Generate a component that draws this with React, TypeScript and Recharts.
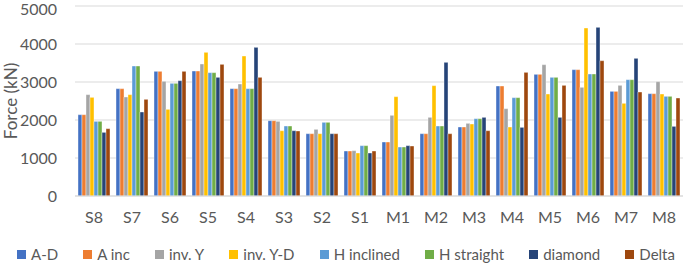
import React from 'react';
import { BarChart, Bar, XAxis, YAxis, CartesianGrid, Legend } from 'recharts';

const categories = ['S8', 'S7', 'S6', 'S5', 'S4', 'S3', 'S2', 'S1', 'M1', 'M2', 'M3', 'M4', 'M5', 'M6', 'M7', 'M8'];

const aD = [2140, 2825, 3281, 3289, 2825, 1982, 1640, 1184, 1421, 1640, 1816, 2895, 3202, 3325, 2754, 2693];
const aInc = [2140, 2825, 3281, 3289, 2825, 1982, 1640, 1184, 1421, 1640, 1816, 2895, 3202, 3325, 2754, 2693];
const invY = [2667, 2605, 3018, 3474, 2947, 1965, 1754, 1193, 2123, 2070, 1912, 2298, 3456, 2860, 2912, 3009];
const invYD = [2596, 2667, 2281, 3781, 3684, 1719, 1640, 1132, 2614, 2904, 1895, 1816, 2684, 4421, 2439, 2684];
const hInclined = [1965, 3421, 2965, 3246, 2825, 1842, 1939, 1325, 1289, 1842, 2035, 2588, 3123, 3211, 3061, 2623];
const hStraight = [1965, 3421, 2965, 3246, 2825, 1842, 1939, 1325, 1289, 1842, 2035, 2588, 3123, 3211, 3061, 2623];
const diamond = [1675, 2211, 3035, 3123, 3912, 1719, 1640, 1132, 1325, 3518, 2070, 1807, 2070, 4439, 3623, 1833];
const delta = [1772, 2544, 3281, 3465, 3123, 1711, 1640, 1184, 1316, 1640, 1719, 3254, 2912, 3561, 2737, 2579];

const yTicks = [0, 1000, 2000, 3000, 4000, 5000];

const series = [
  { key: 'A-D', values: aD, color: '#4472C4' },
  { key: 'A inc', values: aInc, color: '#ED7D31' },
  { key: 'inv. Y', values: invY, color: '#A5A5A5' },
  { key: 'inv. Y-D', values: invYD, color: '#FFC000' },
  { key: 'H inclined', values: hInclined, color: '#5B9BD5' },
  { key: 'H straight', values: hStraight, color: '#70AD47' },
  { key: 'diamond', values: diamond, color: '#264478' },
  { key: 'Delta', values: delta, color: '#9E480E' },
];

const data = categories.map((name, i) => {
  const row: Record<string, string | number> = { name };
  series.forEach(s => {
    row[s.key] = s.values[i];
  });
  return row;
});

const FONT = 'Lato, "Open Sans", sans-serif';
const TEXT = '#595959';

const LegendContent = () => (
  <div
    style={{
      display: 'flex',
      justifyContent: 'space-between',
      alignItems: 'center',
      height: 18,
      paddingLeft: 17,
      paddingRight: 8,
      fontFamily: FONT,
      fontSize: 15,
      color: TEXT,
    }}
  >
    {series.map(s => (
      <span key={s.key} style={{ display: 'flex', alignItems: 'center', whiteSpace: 'nowrap' }}>
        <span style={{ display: 'inline-block', width: 9, height: 9, background: s.color, marginRight: 5 }} />
        {s.key}
      </span>
    ))}
  </div>
);

export default function App() {
  return (
    <div style={{ position: 'absolute', left: 0, top: 0, width: 685, height: 263, background: '#fff' }}>
      <BarChart
        width={685}
        height={263}
        data={data}
        margin={{ top: 6, right: 2, left: 0, bottom: 0 }}
        barCategoryGap={3}
        barGap={0}
      >
        <CartesianGrid vertical={false} stroke="#D9D9D9" />
        <XAxis
          dataKey="name"
          height={49}
          axisLine={{ stroke: '#D9D9D9' }}
          tickLine={false}
          tickSize={0}
          tickMargin={16}
          interval={0}
          tick={{ fill: TEXT, fontSize: 16, fontFamily: FONT }}
        />
        <YAxis
          width={75}
          domain={[0, 5000]}
          ticks={yTicks}
          axisLine={false}
          tickLine={false}
          tickSize={0}
          tickMargin={18}
          tick={{ fill: TEXT, fontSize: 16, fontFamily: FONT }}
          label={{
            value: 'Force (kN)',
            angle: -90,
            position: 'insideLeft',
            offset: 11,
            style: { textAnchor: 'middle', fill: TEXT, fontSize: 17, fontFamily: FONT },
          }}
        />
        <Legend verticalAlign="bottom" content={<LegendContent />} />
        {series.map(s => (
          <Bar
            key={s.key}
            dataKey={s.key}
            fill={s.color}
            stroke="#fff"
            strokeWidth={0.4}
            isAnimationActive={false}
          />
        ))}
      </BarChart>
    </div>
  );
}
